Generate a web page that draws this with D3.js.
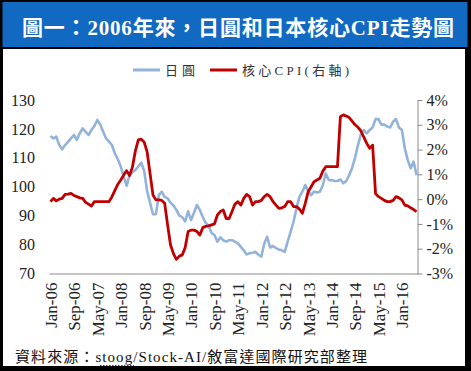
<!DOCTYPE html>
<html>
<head>
<meta charset="utf-8">
<script src="https://cdn.jsdelivr.net/npm/d3@7"></script>
<style>
  body { margin: 0; background: #000; }
  svg { display: block; }
</style>
</head>
<body>
<svg id="chart"></svg>
<script>
// x tick labels (every 8 months) and axis ticks
var tickLabels = ["Jan-06", "Sep-06", "May-07", "Jan-08", "Sep-08", "May-09", "Jan-10", "Sep-10",
                  "May-11", "Jan-12", "Sep-12", "May-13", "Jan-14", "Sep-14", "May-15", "Jan-16"];
var yenTicks = [70, 80, 90, 100, 110, 120, 130];
var cpiTicks = [-3, -2, -1, 0, 1, 2, 3, 4];

// USD/JPY, monthly Jan-06 .. Jun-16
var yen = [
  117.6, 116.7, 117.3, 114.4, 113.0, 114.4, 115.5, 116.7, 117.9, 116.2, 118.5, 120.2,
  119.0, 117.9, 119.6, 121.0, 123.1, 121.5, 119.0, 116.7, 115.6, 114.4, 111.5, 109.5,
  107.0, 103.5, 100.3, 104.0, 105.0, 105.8, 107.0, 108.3, 105.5, 98.5, 94.5, 90.5,
  90.5, 97.1, 98.3, 96.5, 96.0, 94.5, 93.5, 92.0, 90.0, 89.5, 88.0, 91.5,
  88.5, 91.0, 93.7, 92.0, 89.5, 87.5, 86.5, 84.0, 83.3, 81.0, 82.5, 81.5,
  81.0, 81.5, 81.5, 81.0, 80.4, 79.2, 78.0, 76.6, 77.0, 77.2, 77.5, 76.5,
  75.8, 80.4, 82.7, 79.0, 79.5, 78.8, 78.3, 78.0, 77.5, 81.0, 84.4, 87.9,
  92.5, 96.5, 98.3, 100.6, 98.5, 97.1, 98.3, 98.0, 98.3, 100.5, 104.6, 102.3,
  102.3, 102.0, 102.0, 102.5, 101.2, 102.0, 104.0, 106.5, 110.0, 114.4, 118.1, 119.6,
  118.5, 119.6, 120.5, 123.4, 123.4, 121.5, 121.5, 120.8, 120.5, 122.5, 123.4, 120.5,
  119.6, 113.3, 109.2, 106.4, 108.7, 104.0
];

// Japan core CPI yoy (%), monthly Jan-06 .. Jun-16
var cpi = [
  -0.10, 0.03, -0.07, 0.00, 0.03, 0.19, 0.20, 0.23, 0.15, 0.10, 0.05, 0.03,
  -0.13, -0.20, -0.28, -0.10, -0.10, -0.10, -0.10, -0.10, -0.10, 0.10, 0.35, 0.60,
  0.77, 0.97, 1.15, 0.95, 1.30, 1.95, 2.39, 2.42, 2.30, 1.91, 1.04, 0.17,
  -0.03, -0.03, -0.05, -0.17, -1.04, -1.85, -2.20, -2.43, -2.30, -2.25, -1.95, -1.31,
  -1.25, -1.25, -1.30, -1.45, -1.15, -1.10, -1.08, -1.04, -1.00, -0.64, -0.50, -0.44,
  -0.78, -0.78, -0.50, -0.20, -0.10, -0.24, 0.03, 0.19, 0.10, -0.24, -0.10, -0.10,
  -0.05, 0.10, 0.19, 0.10, -0.10, -0.24, -0.37, -0.35, -0.30, -0.10, -0.10, -0.30,
  -0.30, -0.40, -0.57, -0.17, 0.30, 0.50, 0.70, 0.77, 0.84, 1.13, 1.31, 1.31,
  1.31, 1.31, 1.31, 3.33, 3.40, 3.35, 3.29, 3.15, 3.00, 2.90, 2.75, 2.50,
  2.25, 2.05, 2.18, 0.23, 0.10, 0.03, -0.05, -0.10, -0.10, -0.05, 0.10, 0.05,
  -0.03, -0.24, -0.27, -0.35, -0.42, -0.50
];

var W = 471, H = 371;
var serif = "'Liberation Serif', 'Times New Roman', serif";
var cjk = "'Liberation Serif', 'Noto Sans CJK TC', serif";

var svg = d3.select("#chart").attr("width", W).attr("height", H);

// frame: black border, blue title bar, white body
svg.append("rect").attr("width", W).attr("height", H).attr("fill", "#000");
svg.append("rect").attr("x", 2.5).attr("y", 2).attr("width", 465).attr("height", 45).attr("fill", "#1169c2");
svg.append("rect").attr("x", 3).attr("y", 49).attr("width", 462).attr("height", 317).attr("fill", "#fff");

svg.append("text")
    .attr("x", 22).attr("y", 35)
    .attr("textLength", 432).attr("lengthAdjust", "spacing")
    .style("font-family", cjk).style("font-size", "21px").style("font-weight", "bold")
    .attr("fill", "#fff")
    .text("圖一：2006年來，日圓和日本核心CPI走勢圖");

// scales
var n = yen.length;
var x = d3.scaleLinear().domain([-0.5, n - 0.5]).range([49, 418]);
var yL = d3.scaleLinear().domain([70, 130]).range([273.5, 100]);
var yR = d3.scaleLinear().domain([-3, 4]).range([273.5, 100]);

var parseMon = d3.timeParse("%b-%y");
var start = parseMon(tickLabels[0]);
var tickIdx = tickLabels.map(function(s) { return d3.timeMonth.count(start, parseMon(s)); });

// left axis (labels only)
var gL = svg.append("g").attr("transform", "translate(49,0)")
    .call(d3.axisLeft(yL).tickValues(yenTicks).tickSize(0).tickPadding(14));
gL.select(".domain").remove();
gL.selectAll("text").style("font-family", serif).style("font-size", "16px").attr("fill", "#222");

// right axis
var gR = svg.append("g").attr("transform", "translate(417.5,0)")
    .call(d3.axisRight(yR).tickValues(cpiTicks).tickSize(5).tickSizeOuter(0).tickPadding(4)
        .tickFormat(function(d) { return d + "%"; }));
gR.select(".domain").attr("stroke", "#8c8c8c");
gR.selectAll("line").attr("stroke", "#8c8c8c");
gR.selectAll("text").style("font-family", serif).style("font-size", "16px").attr("fill", "#222");

// bottom axis
var gX = svg.append("g").attr("transform", "translate(0,273.5)")
    .call(d3.axisBottom(x).tickValues(tickIdx).tickSize(0).tickSizeOuter(0)
        .tickFormat(function(d, i) { return tickLabels[i]; }));
gX.select(".domain").attr("stroke", "#8c8c8c");
gX.selectAll("text")
    .attr("transform", "rotate(-90)")
    .attr("text-anchor", "end")
    .attr("x", -9).attr("y", 0).attr("dy", "0.35em")
    .style("font-family", serif).style("font-size", "17px").attr("fill", "#222");

// lines
var lineYen = d3.line().x(function(d, i) { return x(i); }).y(function(d) { return yL(d); });
var lineCpi = d3.line().x(function(d, i) { return x(i); }).y(function(d) { return yR(d); });

svg.append("path").datum(yen)
    .attr("d", lineYen)
    .attr("fill", "none").attr("stroke", "#93b3da").attr("stroke-width", 2.6)
    .attr("stroke-linejoin", "round");

svg.append("path").datum(cpi)
    .attr("d", lineCpi)
    .attr("fill", "none").attr("stroke", "#c00000").attr("stroke-width", 2.8)
    .attr("stroke-linejoin", "round");

// legend
var legend = [
  {name: "日圓", color: "#93b3da", x: 133, len: 30},
  {name: "核心CPI(右軸)", color: "#c00000", x: 210, len: 107}
];
var lg = svg.append("g");
legend.forEach(function(d) {
  lg.append("line").attr("x1", d.x).attr("x2", d.x + 27).attr("y1", 70).attr("y2", 70)
      .attr("stroke", d.color).attr("stroke-width", 3);
  lg.append("text").attr("x", d.x + 32).attr("y", 75)
      .attr("textLength", d.len).attr("lengthAdjust", "spacing")
      .style("font-family", cjk).style("font-size", "13px").attr("fill", "#333")
      .text(d.name);
});

// source note
svg.append("text")
    .attr("x", 15).attr("y", 362)
    .attr("textLength", 352).attr("lengthAdjust", "spacing")
    .style("font-family", cjk).style("font-size", "15px").attr("fill", "#111")
    .text("資料來源：stoog/Stock-AI/敘富達國際研究部整理");
svg.append("line").attr("x1", 100).attr("x2", 134).attr("y1", 365.5).attr("y2", 365.5)
    .attr("stroke", "#d00").attr("stroke-width", 1).attr("stroke-dasharray", "1.5,1.5");
</script>
</body>
</html>
